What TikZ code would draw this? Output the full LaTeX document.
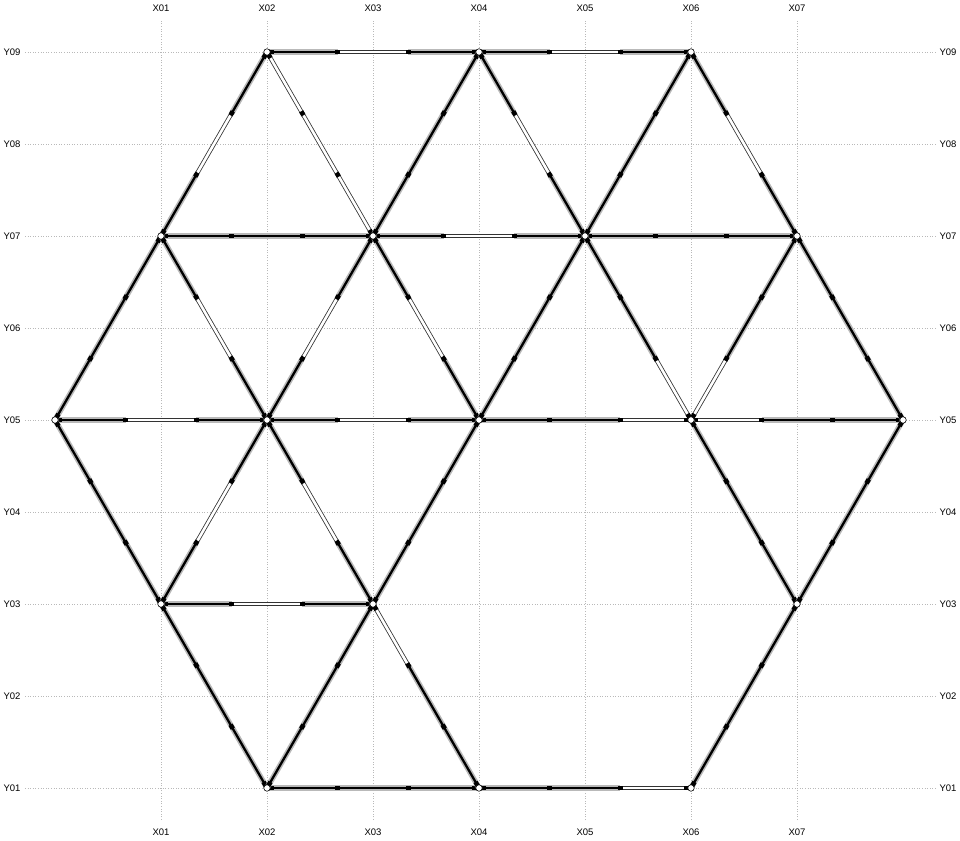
\documentclass[tikz,border=0pt]{standalone}
\usepackage{fontspec}
\setmainfont{Liberation Sans}
\usetikzlibrary{calc,backgrounds}

\tikzset{
  gridline/.style={gray!55, line width=0.5pt, dash pattern=on 1pt off 1.6pt},
  gridlabel/.style={font=\fontsize{9.5}{11}\selectfont, inner sep=0pt},
  fs/.style={draw=gray!55, double=black, line width=1.6pt, double distance=2.3pt},
  hs/.style={draw=black!80, double=white, line width=0.8pt, double distance=2.6pt},
  blk/.style={black, line width=4.6pt},
  joint/.style={circle, draw=black, fill=white, line width=0.6pt, inner sep=0pt, minimum size=6.5pt}
}

% member: from, to, style of the three thirds
\newcommand{\member}[5]{%
  \path (#1) -- (#2) coordinate[pos=0] (m0) coordinate[pos=1/3] (m1)
    coordinate[pos=2/3] (m2) coordinate[pos=1] (m3);
  \draw[#3] (m0) -- (m1);
  \draw[#4] (m1) -- (m2);
  \draw[#5] (m2) -- (m3);
  \draw[blk] ($(m1)!2.3pt!(m0)$) -- ($(m1)!2.3pt!(m3)$);
  \draw[blk] ($(m2)!2.3pt!(m0)$) -- ($(m2)!2.3pt!(m3)$);
  \draw[blk] ($(m0)!2pt!(m3)$) -- ($(m0)!7pt!(m3)$);
  \draw[blk] ($(m3)!2pt!(m0)$) -- ($(m3)!7pt!(m0)$);
}

\begin{document}
\begin{tikzpicture}[x=1pt,y=1pt]
\useasboundingbox (0,0) rectangle (960,840);

% grid
\foreach \i [evaluate=\i as \gx using 55+106*\i] in {1,...,7} {
  \draw[gridline] (\gx,20) -- (\gx,820);
  \node[gridlabel] (xt\i) at (\gx,832) {X0\i};
  \node[gridlabel] (xb\i) at (\gx,8) {X0\i};
}
\foreach \j [evaluate=\j as \gy using -40+92*\j] in {1,...,9} {
  \draw[gridline] (25,\gy) -- (936,\gy);
  \node[gridlabel] (yl\j) at (12,\gy) {Y0\j};
  \node[gridlabel] (yr\j) at (948,\gy) {Y0\j};
}

% joints
\coordinate (x2y9) at (267,788);
\coordinate (x4y9) at (479,788);
\coordinate (x6y9) at (691,788);
\coordinate (x1y7) at (161,604);
\coordinate (x3y7) at (373,604);
\coordinate (x5y7) at (585,604);
\coordinate (x7y7) at (797,604);
\coordinate (x0y5) at (55,420);
\coordinate (x2y5) at (267,420);
\coordinate (x4y5) at (479,420);
\coordinate (x6y5) at (691,420);
\coordinate (x8y5) at (903,420);
\coordinate (x1y3) at (161,236);
\coordinate (x3y3) at (373,236);
\coordinate (x7y3) at (797,236);
\coordinate (x2y1) at (267,52);
\coordinate (x4y1) at (479,52);
\coordinate (x6y1) at (691,52);

% horizontal members
\member{x2y9}{x4y9}{fs}{hs}{fs}
\member{x4y9}{x6y9}{fs}{hs}{fs}
\member{x1y7}{x3y7}{fs}{fs}{fs}
\member{x3y7}{x5y7}{fs}{hs}{fs}
\member{x5y7}{x7y7}{fs}{fs}{fs}
\member{x0y5}{x2y5}{fs}{hs}{fs}
\member{x2y5}{x4y5}{fs}{hs}{fs}
\member{x4y5}{x6y5}{fs}{fs}{hs}
\member{x6y5}{x8y5}{hs}{fs}{fs}
\member{x1y3}{x3y3}{fs}{hs}{fs}
\member{x2y1}{x4y1}{fs}{fs}{fs}
\member{x4y1}{x6y1}{fs}{fs}{hs}

% inclined members
\member{x2y9}{x1y7}{fs}{hs}{fs}
\member{x2y9}{x3y7}{hs}{hs}{hs}
\member{x4y9}{x3y7}{fs}{fs}{fs}
\member{x4y9}{x5y7}{fs}{hs}{fs}
\member{x6y9}{x5y7}{fs}{fs}{fs}
\member{x6y9}{x7y7}{fs}{hs}{fs}
\member{x1y7}{x0y5}{fs}{fs}{fs}
\member{x1y7}{x2y5}{fs}{hs}{fs}
\member{x3y7}{x2y5}{fs}{hs}{fs}
\member{x3y7}{x4y5}{fs}{hs}{fs}
\member{x5y7}{x4y5}{fs}{fs}{fs}
\member{x5y7}{x6y5}{fs}{fs}{hs}
\member{x7y7}{x6y5}{fs}{fs}{hs}
\member{x7y7}{x8y5}{fs}{fs}{fs}
\member{x0y5}{x1y3}{fs}{fs}{fs}
\member{x2y5}{x1y3}{fs}{hs}{fs}
\member{x2y5}{x3y3}{fs}{hs}{fs}
\member{x4y5}{x3y3}{fs}{fs}{fs}
\member{x6y5}{x7y3}{fs}{fs}{fs}
\member{x8y5}{x7y3}{fs}{fs}{fs}
\member{x1y3}{x2y1}{fs}{fs}{fs}
\member{x3y3}{x2y1}{fs}{fs}{fs}
\member{x3y3}{x4y1}{hs}{fs}{fs}
\member{x7y3}{x6y1}{fs}{fs}{fs}

% joint circles
\foreach \p in {x2y9,x4y9,x6y9,x1y7,x3y7,x5y7,x7y7,x0y5,x2y5,x4y5,x6y5,x8y5,x1y3,x3y3,x7y3,x2y1,x4y1,x6y1}
  \node[joint] (j\p) at (\p) {};
\end{tikzpicture}
\end{document}
